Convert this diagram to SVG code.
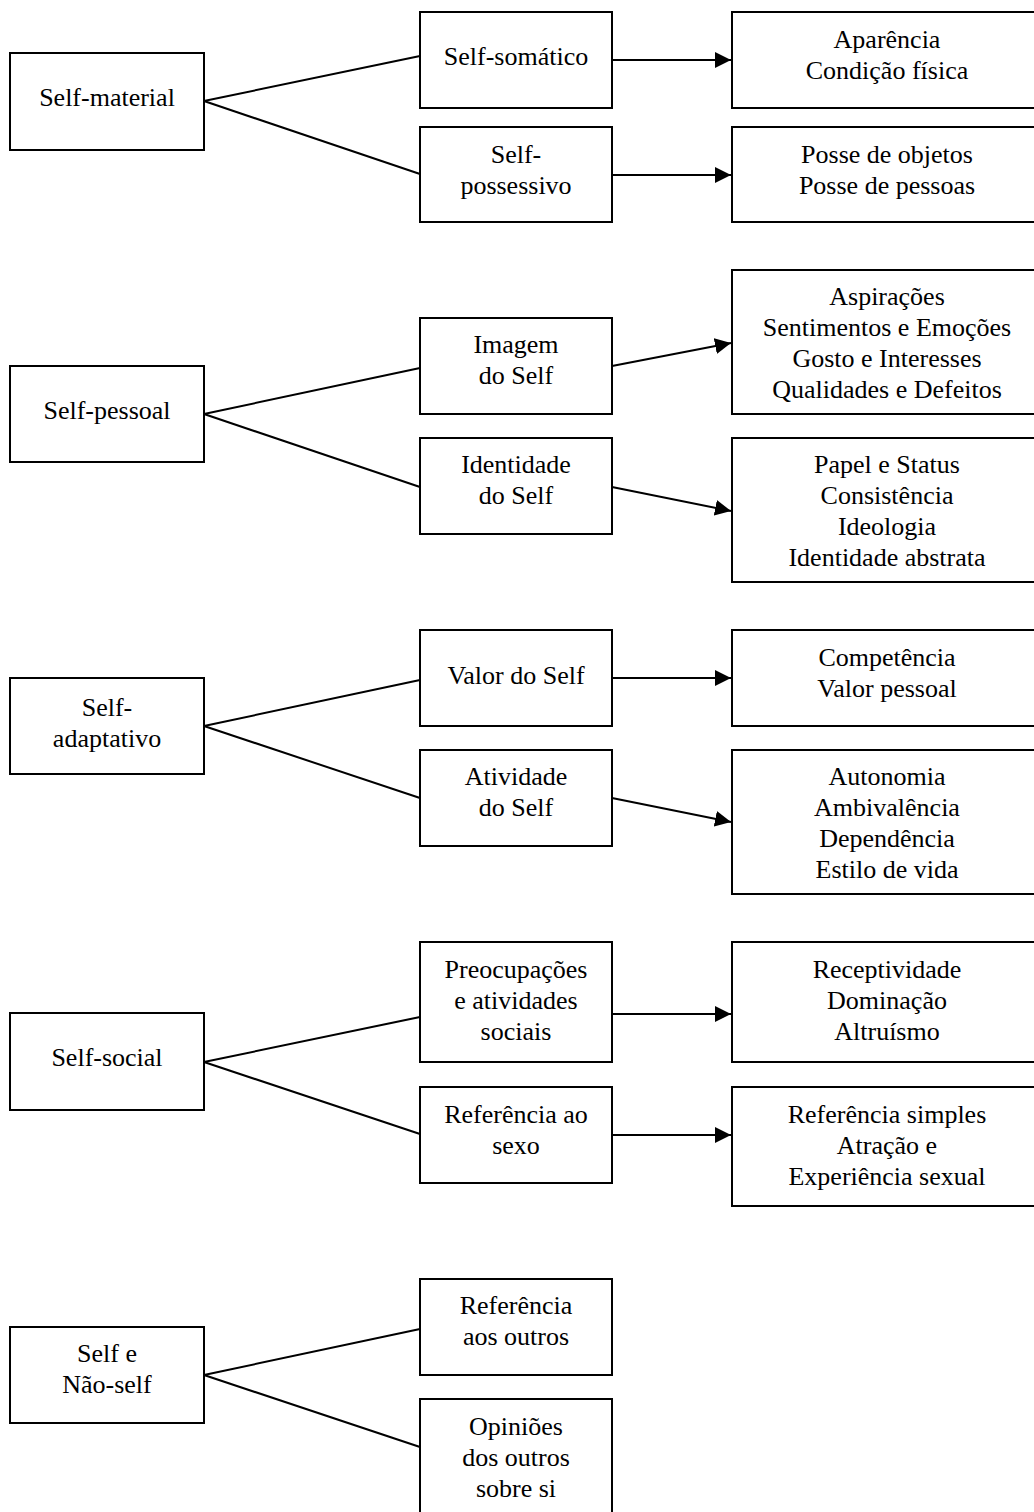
<svg xmlns="http://www.w3.org/2000/svg" width="1034" height="1512" viewBox="0 0 1034 1512">
  <style>
    .box { fill: #ffffff; stroke: #000000; stroke-width: 2; }
    .lbl { font-family: "Liberation Serif", "Times New Roman", serif; font-size: 26px; fill: #000000; text-anchor: middle; }
    .link { fill: none; stroke: #000000; stroke-width: 2; }
    .arrow { fill: none; stroke: #000000; stroke-width: 2; marker-end: url(#head); }
  </style>
  <defs>
    <marker id="head" markerUnits="userSpaceOnUse" markerWidth="17" markerHeight="17" refX="16" refY="8" orient="auto">
      <path d="M0,0 L16,8 L0,16 Z" fill="#000000"/>
    </marker>
  </defs>
  <rect width="1034" height="1512" fill="#ffffff"/>

  <!-- connectors -->
  <g id="connectors">
    <!-- Self-material -->
    <path class="link" d="M204,101 L420,56"/>
    <path class="link" d="M204,101 L420,174"/>
    <path class="arrow" d="M612,60 L731,60"/>
    <path class="arrow" d="M612,175 L731,175"/>
    <!-- Self-pessoal -->
    <path class="link" d="M204,414 L420,368"/>
    <path class="link" d="M204,414 L420,487"/>
    <path class="arrow" d="M612,366 L731,343"/>
    <path class="arrow" d="M612,487 L731,511"/>
    <!-- Self-adaptativo -->
    <path class="link" d="M204,726 L420,680"/>
    <path class="link" d="M204,726 L420,798"/>
    <path class="arrow" d="M612,678 L731,678"/>
    <path class="arrow" d="M612,798 L731,822"/>
    <!-- Self-social -->
    <path class="link" d="M204,1062 L420,1017"/>
    <path class="link" d="M204,1062 L420,1134"/>
    <path class="arrow" d="M612,1014 L731,1014"/>
    <path class="arrow" d="M612,1135 L731,1135"/>
    <!-- Self e Não-self -->
    <path class="link" d="M204,1375 L420,1329"/>
    <path class="link" d="M204,1375 L420,1447"/>
  </g>

  <!-- group 1 -->
  <g id="self-material">
    <rect class="box" x="10" y="53" width="194" height="97"/>
    <text class="lbl" x="107" y="106">Self-material</text>
  </g>
  <g id="self-somatico">
    <rect class="box" x="420" y="12" width="192" height="96"/>
    <text class="lbl" x="516" y="65">Self-somático</text>
  </g>
  <g id="self-possessivo">
    <rect class="box" x="420" y="127" width="192" height="95"/>
    <text class="lbl" x="516" y="163">Self-</text>
    <text class="lbl" x="516" y="194">possessivo</text>
  </g>
  <g id="somatico-itens">
    <rect class="box" x="732" y="12" width="320" height="96"/>
    <text class="lbl" x="887" y="48">Aparência</text>
    <text class="lbl" x="887" y="79">Condição física</text>
  </g>
  <g id="possessivo-itens">
    <rect class="box" x="732" y="127" width="320" height="95"/>
    <text class="lbl" x="887" y="163">Posse de objetos</text>
    <text class="lbl" x="887" y="194">Posse de pessoas</text>
  </g>

  <!-- group 2 -->
  <g id="self-pessoal">
    <rect class="box" x="10" y="366" width="194" height="96"/>
    <text class="lbl" x="107" y="419">Self-pessoal</text>
  </g>
  <g id="imagem-do-self">
    <rect class="box" x="420" y="318" width="192" height="96"/>
    <text class="lbl" x="516" y="353">Imagem</text>
    <text class="lbl" x="516" y="384">do Self</text>
  </g>
  <g id="identidade-do-self">
    <rect class="box" x="420" y="438" width="192" height="96"/>
    <text class="lbl" x="516" y="473">Identidade</text>
    <text class="lbl" x="516" y="504">do Self</text>
  </g>
  <g id="imagem-itens">
    <rect class="box" x="732" y="270" width="320" height="144"/>
    <text class="lbl" x="887" y="305">Aspirações</text>
    <text class="lbl" x="887" y="336">Sentimentos e Emoções</text>
    <text class="lbl" x="887" y="367">Gosto e Interesses</text>
    <text class="lbl" x="887" y="398">Qualidades e Defeitos</text>
  </g>
  <g id="identidade-itens">
    <rect class="box" x="732" y="438" width="320" height="144"/>
    <text class="lbl" x="887" y="473">Papel e Status</text>
    <text class="lbl" x="887" y="504">Consistência</text>
    <text class="lbl" x="887" y="535">Ideologia</text>
    <text class="lbl" x="887" y="566">Identidade abstrata</text>
  </g>

  <!-- group 3 -->
  <g id="self-adaptativo">
    <rect class="box" x="10" y="678" width="194" height="96"/>
    <text class="lbl" x="107" y="716">Self-</text>
    <text class="lbl" x="107" y="747">adaptativo</text>
  </g>
  <g id="valor-do-self">
    <rect class="box" x="420" y="630" width="192" height="96"/>
    <text class="lbl" x="516" y="684">Valor do Self</text>
  </g>
  <g id="atividade-do-self">
    <rect class="box" x="420" y="750" width="192" height="96"/>
    <text class="lbl" x="516" y="785">Atividade</text>
    <text class="lbl" x="516" y="816">do Self</text>
  </g>
  <g id="valor-itens">
    <rect class="box" x="732" y="630" width="320" height="96"/>
    <text class="lbl" x="887" y="666">Competência</text>
    <text class="lbl" x="887" y="697">Valor pessoal</text>
  </g>
  <g id="atividade-itens">
    <rect class="box" x="732" y="750" width="320" height="144"/>
    <text class="lbl" x="887" y="785">Autonomia</text>
    <text class="lbl" x="887" y="816">Ambivalência</text>
    <text class="lbl" x="887" y="847">Dependência</text>
    <text class="lbl" x="887" y="878">Estilo de vida</text>
  </g>

  <!-- group 4 -->
  <g id="self-social">
    <rect class="box" x="10" y="1013" width="194" height="97"/>
    <text class="lbl" x="107" y="1066">Self-social</text>
  </g>
  <g id="preocupacoes">
    <rect class="box" x="420" y="942" width="192" height="120"/>
    <text class="lbl" x="516" y="978">Preocupações</text>
    <text class="lbl" x="516" y="1009">e atividades</text>
    <text class="lbl" x="516" y="1040">sociais</text>
  </g>
  <g id="referencia-ao-sexo">
    <rect class="box" x="420" y="1087" width="192" height="96"/>
    <text class="lbl" x="516" y="1123">Referência ao</text>
    <text class="lbl" x="516" y="1154">sexo</text>
  </g>
  <g id="social-itens">
    <rect class="box" x="732" y="942" width="320" height="120"/>
    <text class="lbl" x="887" y="978">Receptividade</text>
    <text class="lbl" x="887" y="1009">Dominação</text>
    <text class="lbl" x="887" y="1040">Altruísmo</text>
  </g>
  <g id="sexo-itens">
    <rect class="box" x="732" y="1087" width="320" height="119"/>
    <text class="lbl" x="887" y="1123">Referência simples</text>
    <text class="lbl" x="887" y="1154">Atração e</text>
    <text class="lbl" x="887" y="1185">Experiência sexual</text>
  </g>

  <!-- group 5 -->
  <g id="self-e-nao-self">
    <rect class="box" x="10" y="1327" width="194" height="96"/>
    <text class="lbl" x="107" y="1362">Self e</text>
    <text class="lbl" x="107" y="1393">Não-self</text>
  </g>
  <g id="referencia-aos-outros">
    <rect class="box" x="420" y="1279" width="192" height="96"/>
    <text class="lbl" x="516" y="1314">Referência</text>
    <text class="lbl" x="516" y="1345">aos outros</text>
  </g>
  <g id="opinioes-dos-outros">
    <rect class="box" x="420" y="1399" width="192" height="140"/>
    <text class="lbl" x="516" y="1435">Opiniões</text>
    <text class="lbl" x="516" y="1466">dos outros</text>
    <text class="lbl" x="516" y="1497">sobre si</text>
  </g>
</svg>
